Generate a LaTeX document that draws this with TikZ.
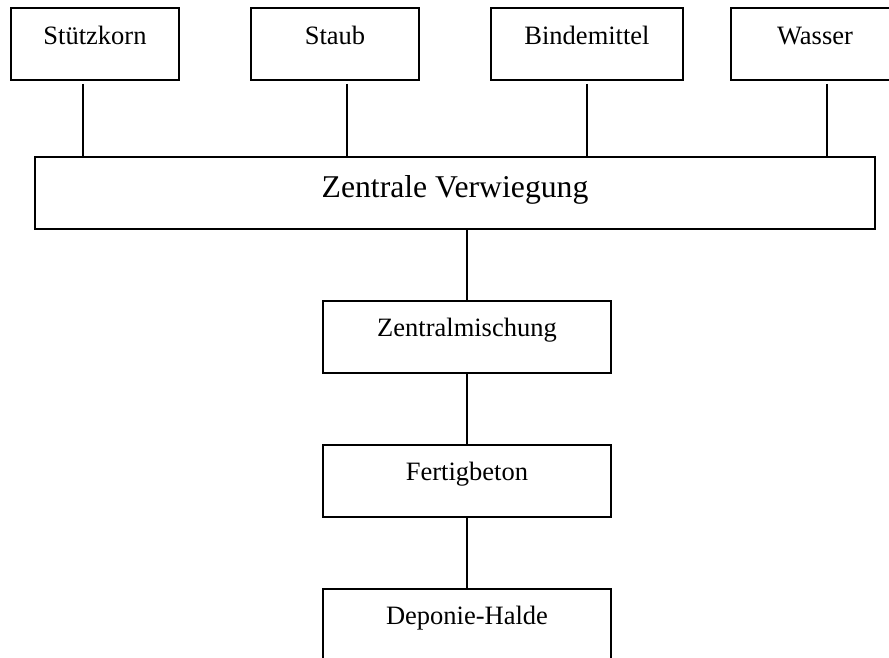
\documentclass[tikz,border=0pt]{standalone}
\usepackage{fontspec}
\setmainfont{Liberation Serif}
\usepackage{tikz}
\usetikzlibrary{positioning}

\begin{document}
\begin{tikzpicture}[x=1pt,y=-1pt,line width=1.5pt,node distance=72pt]
		\tikzstyle{box}=[draw,rectangle,inner xsep=0pt,inner ysep=0pt,outer sep=0pt,text height=37pt,text depth=35pt,font=\fontsize{26.5}{30}\selectfont]
		\tikzstyle{flow}=[box,minimum width=288pt,text height=35pt,text depth=37pt]
		
		\clip (0,0) rectangle (889,658);
		
		\node[box] (stuetz) [anchor=north, minimum width=168pt] at (95,8)  {Stützkorn};
		\node[box] (staub)  [anchor=north, minimum width=168pt] at (335,8) {Staub};
		\node[box] (binde)  [anchor=north, minimum width=192pt] at (587,8) {Bindemittel};
		\node[box] (wasser) [anchor=north, minimum width=168pt] at (815,8) {Wasser};
		\node[box] (zv) [anchor=north, minimum width=840pt, text height=40pt, text depth=32pt,
			font=\fontsize{31.7}{36}\selectfont] at (455,157) {Zentrale Verwiegung};
		
		\node[flow] (mischung) [below=of zv, xshift=12pt] {Zentralmischung};
		\node[flow] (beton)    [below=of mischung]        {Fertigbeton};
		\node[flow] (halde)    [below=of beton]           {Deponie-Halde};
		
		\draw ([xshift=-12pt,yshift=-4pt]stuetz.south) -- ([xshift=-12pt]stuetz.south |- zv.north);
		\draw ([xshift=12pt,yshift=-4pt]staub.south)   -- ([xshift=12pt]staub.south |- zv.north);
		\draw ([yshift=-4pt]binde.south)               -- (binde.south |- zv.north);
		\draw ([xshift=12pt,yshift=-4pt]wasser.south)  -- ([xshift=12pt]wasser.south |- zv.north);
		
		\draw (mischung.north |- zv.south) -- (mischung.north);
		\draw (mischung) -- (beton);
		\draw (beton) -- (halde);
		
\end{tikzpicture}
\end{document}
